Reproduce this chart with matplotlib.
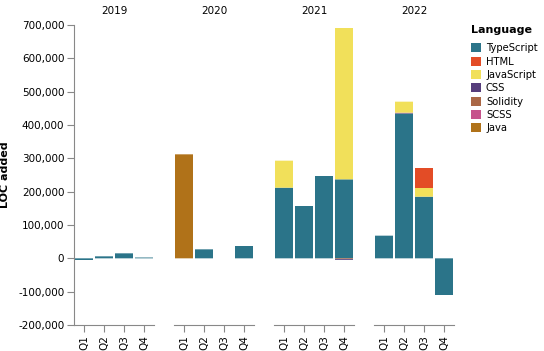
import matplotlib
matplotlib.use('Agg')
import matplotlib.pyplot as plt
import numpy as np
from matplotlib.patches import Patch
from matplotlib.ticker import FuncFormatter

## data (LOC added per quarter and language)
years = ['2019', '2020', '2021', '2022']
quarters = ['Q1', 'Q2', 'Q3', 'Q4']
languages = ['TypeScript', 'HTML', 'JavaScript', 'CSS', 'Solidity', 'SCSS', 'Java']
colors = ['#2b7489', '#e34c26', '#f1e05a', '#563d7c', '#aa6746', '#c6538c', '#b07219']

# one list of 4 quarter values per year
typescript = {'2019': [-5000, 6000, 15000, 2500],
              '2020': [0, 27000, 0, 37000],
              '2021': [212000, 157000, 247000, 237000],
              '2022': [68000, 435000, 185000, -110000]}
html = {'2019': [0, 0, 0, 0], '2020': [0, 0, 0, 0],
        '2021': [0, 0, 0, 0], '2022': [0, 0, 60000, 0]}
javascript = {'2019': [0, 0, 0, 0], '2020': [0, 0, 0, 0],
              '2021': [81000, 0, 0, 454000], '2022': [0, 33000, 26000, 0]}
css = {'2019': [0, 0, 0, 0], '2020': [0, 0, 0, 0],
       '2021': [0, 0, 0, -2500], '2022': [0, 0, 0, 0]}
solidity = {'2019': [0, 0, 0, 0], '2020': [0, 0, 0, 0],
            '2021': [0, 0, 0, -2000], '2022': [0, 0, 0, 0]}
scss = {'2019': [0, 0, 0, 0], '2020': [0, 0, 0, 0],
        '2021': [0, 0, 0, 0], '2022': [0, 2000, 0, 0]}
java = {'2019': [0, 0, 0, 0], '2020': [312000, 0, 0, 0],
        '2021': [0, 0, 0, 0], '2022': [0, 0, 0, 0]}

series = {'TypeScript': typescript, 'HTML': html, 'JavaScript': javascript,
          'CSS': css, 'Solidity': solidity, 'SCSS': scss, 'Java': java}
stack_order = ['TypeScript', 'Java', 'SCSS', 'Solidity', 'CSS', 'JavaScript', 'HTML']
color_of = dict(zip(languages, colors))

plt.rcParams['font.family'] = 'DejaVu Sans'
W, H = 544, 351
fig = plt.figure(figsize=(W / 100, H / 100), dpi=100)

axis_col = '#888888'
for i, yr in enumerate(years):
    x0 = 74 + 100 * i
    ax = fig.add_axes([x0 / W, 1 - 325 / H, 80 / W, 300 / H])
    x = np.arange(4)
    pos = np.zeros(4)
    neg = np.zeros(4)
    for lang in stack_order:
        vals = np.array(series[lang][yr], dtype=float)
        bottoms = np.where(vals >= 0, pos, neg)
        ax.bar(x, vals, bottom=bottoms, width=0.9, color=color_of[lang],
               linewidth=0, snap=False)
        pos += np.clip(vals, 0, None)
        neg += np.clip(vals, None, 0)
    ax.set_xlim(-0.5, 3.5)
    ax.set_ylim(-200000, 700000)
    ax.set_xticks(x)
    ax.set_xticklabels(quarters, rotation=90, fontsize=7.5)
    ax.set_title(yr, fontsize=7.5, pad=8)
    for s in ['top', 'right']:
        ax.spines[s].set_visible(False)
    ax.spines['bottom'].set_color(axis_col)
    ax.spines['left'].set_color(axis_col)
    ax.tick_params(axis='x', colors=axis_col, labelcolor='black', length=5, width=0.8, pad=2)
    if i == 0:
        ax.set_yticks(np.arange(-200000, 700001, 100000))
        ax.yaxis.set_major_formatter(FuncFormatter(lambda v, p: '{:,.0f}'.format(v)))
        ax.tick_params(axis='y', colors=axis_col, labelcolor='black', length=5, width=0.8,
                       labelsize=7.5, pad=2)
        ax.set_ylabel('LOC added', fontsize=8, fontweight='bold', labelpad=6)
    else:
        ax.spines['left'].set_visible(False)
        ax.set_yticks([])

handles = [Patch(facecolor=c, edgecolor='none') for c in colors]
leg = fig.legend(handles, languages, title='Language', loc='upper left',
                 bbox_to_anchor=(471 / W, 1 - 25 / H), frameon=False, fontsize=7.2,
                 title_fontproperties={'weight': 'bold', 'size': 8},
                 handlelength=1.0, handleheight=1.0, handletextpad=0.5,
                 labelspacing=0.33, borderaxespad=0, borderpad=0)
leg._legend_box.align = 'left'
leg._legend_box.sep = 6

fig.savefig('out.png', dpi=100)
